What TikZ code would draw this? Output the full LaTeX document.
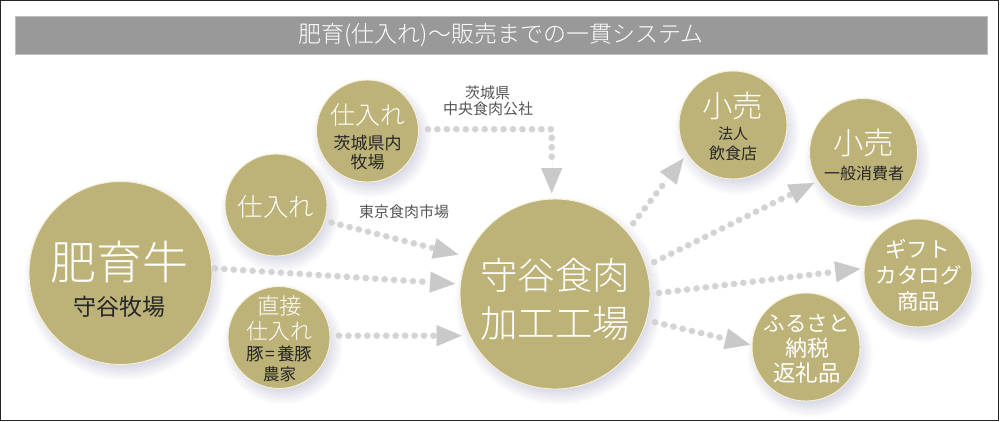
\documentclass[tikz,border=0pt]{standalone}
\usepackage{fontspec}
\setmainfont{Noto Sans CJK JP Light}
\newfontfamily\jpreg{Noto Sans CJK JP}
\usetikzlibrary{arrows.meta}
\definecolor{gold}{HTML}{BDB278}
\definecolor{rim}{HTML}{F6F1DA}
\definecolor{bar}{HTML}{999999}
\definecolor{dotc}{HTML}{D4D4D4}
\definecolor{tipc}{HTML}{C9C9C9}
\definecolor{graytext}{HTML}{555555}
\tikzset{
  disc/.style={circle,fill=gold,draw=rim,line width=0.9pt,inner sep=0pt,outer sep=0pt,minimum size=#1},
  big/.style={text=white,inner sep=0pt,font=\fontsize{#1}{#1}\selectfont},
  bigreg/.style={text=white,inner sep=0pt,font=\jpreg\fontsize{#1}{#1}\selectfont},
  small/.style={text=black!85,inner sep=0pt,font=\jpreg\fontsize{#1}{#1}\selectfont},
  route/.style={text=graytext,inner sep=0pt,font=\jpreg\fontsize{15}{15}\selectfont},
  flow/.style n args={3}{postaction={draw=dotc,line width=6.6pt,line cap=round,dash pattern=on 0pt off 9.45pt,shorten <=#1,shorten >=#2+#3},
    postaction={draw=tipc,line width=0.01pt,shorten <=#1,shorten >=#2,-{Triangle[length=25pt,width=21pt]}}},
}
\newcommand{\softshadow}[3]{\foreach \i in {0,...,11}{\pgfmathsetmacro{\rr}{#3+9-\i*1.3}\fill[black!60!blue!80,opacity=0.012] (#1+4,#2+7) circle[radius=\rr pt];}}
\begin{document}
\begin{tikzpicture}[x=1pt,y=-1pt]
\useasboundingbox (0,0) rectangle (1000,421);
\fill[white] (0,0) rectangle (1000,421);
\draw[black!85,line width=1.4pt] (0.7,0.7) rectangle (998.3,420.3);
\node[fill=bar,draw=black!25,line width=0.5pt,minimum width=972pt,minimum height=38pt,inner sep=0pt,text=white,font=\fontsize{23}{23}\selectfont] (title) at (501,35) {肥育(仕入れ)〜販売までの一貫システム};
\softshadow{120.5}{273}{91.5}
\softshadow{276}{205}{51}
\softshadow{367.5}{131}{51}
\softshadow{279}{337.5}{51}
\softshadow{555}{294}{95}
\softshadow{733}{125}{54}
\softshadow{863.5}{152.5}{54}
\softshadow{918}{273}{54}
\softshadow{806}{347}{54}
\node[disc=183pt] (ushi) at (120.5,273) {};
\node[disc=102pt] (mid) at (276,205) {};
\node[disc=102pt] (top) at (367.5,131) {};
\node[disc=102pt] (direct) at (279,337.5) {};
\node[disc=190pt] (fac) at (555,294) {};
\node[disc=108pt] (retaila) at (733,125) {};
\node[disc=108pt] (retailb) at (863.5,152.5) {};
\node[disc=108pt] (gift) at (918,273) {};
\node[disc=108pt] (furu) at (806,347) {};
\node[big=46] (ushia) at (119,262) {肥育牛};
\node[small=23] (ushib) at (119,307) {守谷牧場};
\node[big=25.5] (mida) at (276,207) {仕入れ};
\node[big=25] (topa) at (367.5,115) {仕入れ};
\node[small=17] (topb) at (367.5,143) {茨城県内};
\node[small=17] (topc) at (367.5,162) {牧場};
\node[big=22.5] (dira) at (279.5,306) {直接};
\node[big=22] (dirb) at (279.5,331) {仕入れ};
\node[small=17.5] (dirc) at (279.5,354) {豚\kern1.5pt=\kern1.5pt養豚};
\node[small=16.5] (dird) at (279.5,374) {農家};
\node[big=37.5] (faca) at (555,275) {守谷食肉};
\node[big=37.5] (facb) at (555,323) {加工工場};
\node[big=30.5] (ra) at (732.5,106) {小売};
\node[small=15] (rb) at (733,134) {法人};
\node[small=16] (rc) at (733,153) {飲食店};
\node[big=30.5] (rd) at (863.5,143) {小売};
\node[small=16] (re) at (864,173) {一般消費者};
\node[bigreg=21.5] (ga) at (917.5,249) {ギフト};
\node[bigreg=21.5] (gb) at (918.5,275) {カタログ};
\node[bigreg=21.5] (gc) at (918.5,301) {商品};
\node[bigreg=21.5] (fa) at (806.5,323) {ふるさと};
\node[bigreg=22] (fb) at (807,348) {納税};
\node[bigreg=22.5] (fc) at (807,373) {返礼品};
\node[route] (la) at (487.5,93) {茨城県};
\node[route] (lb) at (488,109) {中央食肉公社};
\node[route] (lc) at (404,212) {東京食肉市場};
\path[flow={3pt}{5.5pt}{30pt}] (ushi.3.8) -- (fac.174.2);
\path[flow={7pt}{9.5pt}{23pt}] (mid.-18) -- (fac.157.9);
\path[flow={9pt}{8pt}{25pt}] (direct.2) -- (fac.206.3);
\path[flow={9.5pt}{6pt}{30pt}] (top.2) -| (fac.92);
\path[flow={10.6pt}{6pt}{26pt}] (fac.41.3) -- (retaila.212.9);
\path[flow={9.5pt}{4pt}{26pt}] (fac.17.8) -- (retailb.212.1);
\path[flow={9pt}{4pt}{28pt}] (fac.0.6) -- (gift.175.2);
\path[flow={9pt}{2pt}{26pt}] (fac.-16.5) -- (furu.178.4);
\end{tikzpicture}
\end{document}
